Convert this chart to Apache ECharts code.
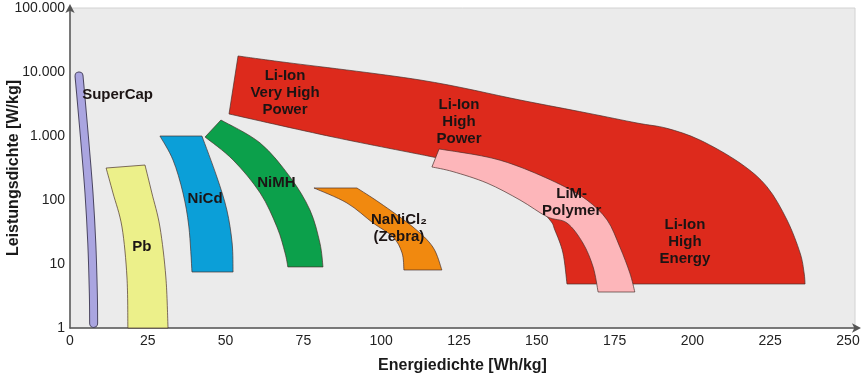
<!DOCTYPE html>
<html>
<head>
<meta charset="utf-8">
<script src="https://cdn.jsdelivr.net/npm/echarts@6/dist/echarts.min.js"></script>
<style>
html, body { margin: 0; padding: 0; background: #fff; }
#ragone { width: 865px; height: 376px; }
</style>
</head>
<body>
<div id="ragone"></div>
<script>
// Ragone-Diagramm: Energiedichte [Wh/kg] gegen Leistungsdichte [W/kg] (log)
var superCap = [[2.9, 8660], [3.4, 4700], [4.8, 780], [6.1, 129], [7.0, 21.3], [7.5, 3.5], [7.6, 1.18]];
var pb = [[11.6, 316], [24.1, 352], [26.3, 129], [28.9, 37.9], [30.8, 6.26], [31.5, 1],
          [18.6, 1], [18.3, 6.26], [16.7, 37.9], [13.8, 129]];
var niCd = [[28.9, 1000], [42.4, 1000], [47.2, 229], [50.4, 69.8], [52.1, 21.3], [52.4, 7.5],
            [39.2, 7.5], [38.2, 37.9], [36.3, 129], [33.1, 422]];
var niMH = [[48.5, 1778], [61.1, 777], [70.7, 229], [77.1, 69.8], [80.3, 21.3], [81.3, 9],
            [70.0, 9], [69.1, 14.9], [66.5, 37.9], [61.1, 129], [52.4, 422], [43.4, 964]];
var naNiCl = [[78.4, 154], [92.2, 154], [99.6, 89.8], [110.2, 37.9], [116.6, 18.4], [119.5, 8.06],
              [107.3, 8.06], [106.7, 14.9], [103.8, 26.5], [97.4, 43.7], [89.0, 89.8]];
var liIon = [[54.0, 17800], [67.5, 14500], [112.5, 7500], [144.6, 3650], [166.1, 2290], [182.2, 1596],
             [191.8, 1318], [202.4, 866], [215.3, 378], [224.0, 160], [230.4, 48.7], [234.6, 14.9],
             [235.9, 7.23], [236.2, 4.87], [159.7, 4.87], [158.4, 14.9], [155.8, 34], [154.2, 48.7],
             [147.8, 100], [135.0, 218], [120.5, 422], [116.6, 470], [84.5, 964], [51.1, 2210]];
var liPolymer = [[118.6, 627], [134.0, 470], [144.6, 328], [157.5, 175], [166.1, 100], [172.6, 48.7],
                 [176.7, 18.4], [179.9, 7.23], [181.5, 3.65], [169.7, 3.65], [168.1, 8.98], [164.8, 21.3],
                 [159.7, 43.7], [153.3, 54.8], [144.6, 100], [134.0, 184], [123.1, 277], [116.3, 328]];

// indices of the sharp corners of each outline (edges in between are curved)
var pbCorners = [0, 1, 5, 6];
var niCdCorners = [0, 1, 5, 6];
var niMHCorners = [0, 5, 6, 11];
var naNiClCorners = [0, 1, 5, 6];
var liIonCorners = [0, 13, 14, 23];
var liPolymerCorners = [0, 8, 9, 17];

var labels = [
    ['SuperCap', 15.3, 4365],
    ['Pb', 23.1, 18.6],
    ['NiCd', 43.4, 104],
    ['NiMH', 66.3, 182],
    ['NaNiCl\u2082\n(Zebra)', 105.7, 36.5],
    ['Li-Ion\nVery High\nPower', 69.1, 4785],
    ['Li-Ion\nHigh\nPower', 125.0, 1672],
    ['LiM-\nPolymer', 161.2, 93],
    ['Li-Ion\nHigh\nEnergy', 197.6, 22.1]
];

var edgeColor = 'rgba(70,45,40,0.85)';

// Catmull-Rom through a run of pixel points -> svg path commands
function runPath(run) {
    var s = '';
    if (run.length === 2) return ' L' + run[1][0] + ',' + run[1][1];
    for (var k = 0; k < run.length - 1; k++) {
        var p0 = run[k - 1] || run[k], p1 = run[k], p2 = run[k + 1], p3 = run[k + 2] || run[k + 1];
        var c1x = p1[0] + (p2[0] - p0[0]) / 6, c1y = p1[1] + (p2[1] - p0[1]) / 6;
        var c2x = p2[0] - (p3[0] - p1[0]) / 6, c2y = p2[1] - (p3[1] - p1[1]) / 6;
        s += ' C' + c1x + ',' + c1y + ' ' + c2x + ',' + c2y + ' ' + p2[0] + ',' + p2[1];
    }
    return s;
}

function outlinePath(p, corners) {
    var d = 'M' + p[corners[0]][0] + ',' + p[corners[0]][1];
    for (var i = 0; i < corners.length; i++) {
        var a = corners[i], b = corners[(i + 1) % corners.length];
        var run = [];
        var j = a;
        run.push(p[j]);
        while (j !== b) {
            j = (j + 1) % p.length;
            run.push(p[j]);
        }
        d += runPath(run);
    }
    return d + ' Z';
}

function shapeSeries(name, pts, corners, fill) {
    return {
        name: name,
        type: 'custom',
        silent: true,
        data: pts,
        encode: { x: 0, y: 1 },
        renderItem: function (params, api) {
            if (params.dataIndex !== 0) return null;
            var p = pts.map(function (d) { return api.coord(d); });
            return {
                type: 'path',
                shape: { pathData: outlinePath(p, corners) },
                style: { fill: fill, stroke: edgeColor, lineWidth: 0.8 }
            };
        }
    };
}

var myChart = echarts.init(document.getElementById('ragone'));

var option = {
    animation: false,
    grid: {
        left: 70,
        right: 10,
        top: 8,
        bottom: 48,
        outerBoundsMode: 'none',
        containLabel: false,
        show: true,
        backgroundColor: '#ebebeb',
        borderColor: '#d2d2d2',
        borderWidth: 1
    },
    xAxis: {
        type: 'value',
        min: 0,
        max: 252.25,
        interval: 25,
        name: 'Energiedichte [Wh/kg]',
        nameLocation: 'middle',
        nameGap: 30,
        nameMoveOverlap: false,
        nameTextStyle: { color: '#1a1a1a', fontSize: 16, fontWeight: 'bold', fontFamily: 'Liberation Sans' },
        axisLine: {
            show: true,
            symbol: ['none', 'arrow'],
            symbolSize: [7, 9],
            symbolOffset: [0, 6],
            lineStyle: { color: '#555', width: 1.5 }
        },
        axisTick: { show: false },
        splitLine: { show: false },
        axisLabel: {
            showMaxLabel: false,
            color: '#222',
            fontSize: 14,
            margin: 6,
            fontFamily: 'Liberation Sans'
        }
    },
    yAxis: {
        type: 'log',
        logBase: 10,
        min: 1,
        max: 100000,
        name: 'Leistungsdichte [W/kg]',
        nameLocation: 'middle',
        nameGap: 48,
        nameMoveOverlap: false,
        nameTextStyle: { color: '#1a1a1a', fontSize: 16, fontWeight: 'bold', fontFamily: 'Liberation Sans' },
        axisLine: {
            show: true,
            symbol: ['none', 'arrow'],
            symbolSize: [7, 9],
            symbolOffset: [0, 4],
            lineStyle: { color: '#555', width: 1.5 }
        },
        axisTick: { show: false },
        splitLine: { show: false },
        axisLabel: {
            color: '#222',
            fontSize: 14,
            margin: 5,
            fontFamily: 'Liberation Sans',
            formatter: function (v) {
                return String(Math.round(v)).replace(/\B(?=(\d{3})+(?!\d))/g, '.');
            }
        }
    },
    series: [
        {
            name: 'SuperCap',
            type: 'custom',
            silent: true,
            data: superCap,
            encode: { x: 0, y: 1 },
            renderItem: function (params, api) {
                if (params.dataIndex !== 0) return null;
                var p = superCap.map(function (d) { return api.coord(d); });
                var d = 'M' + p[0][0] + ',' + p[0][1] + runPath(p);
                return {
                    type: 'group',
                    children: [
                        { type: 'path', shape: { pathData: d }, style: { stroke: '#4a4560', lineWidth: 9, lineCap: 'round', lineJoin: 'round', fill: null } },
                        { type: 'path', shape: { pathData: d }, style: { stroke: '#aaa5e0', lineWidth: 7, lineCap: 'round', lineJoin: 'round', fill: null } }
                    ]
                };
            }
        },
        shapeSeries('Pb', pb, pbCorners, '#ecf08a'),
        shapeSeries('NiCd', niCd, niCdCorners, '#0b9fd8'),
        shapeSeries('NiMH', niMH, niMHCorners, '#0ca04b'),
        shapeSeries('NaNiCl2', naNiCl, naNiClCorners, '#f1890f'),
        shapeSeries('Li-Ion', liIon, liIonCorners, '#dd2a1c'),
        shapeSeries('LiM-Polymer', liPolymer, liPolymerCorners, '#fdb6ba'),
        {
            name: 'labels',
            type: 'custom',
            silent: true,
            data: labels.map(function (l) { return [l[1], l[2]]; }),
            encode: { x: 0, y: 1 },
            renderItem: function (params, api) {
                var c = api.coord([api.value(0), api.value(1)]);
                return {
                    type: 'text',
                    x: c[0],
                    y: c[1],
                    style: {
                        text: labels[params.dataIndex][0],
                        fill: '#1c1414',
                        font: 'bold 15px "Liberation Sans", Arial, sans-serif',
                        align: 'center',
                        verticalAlign: 'middle',
                        textAlign: 'center',
                        textVerticalAlign: 'middle',
                        lineHeight: 17
                    }
                };
            }
        }
    ]
};

myChart.setOption(option);

window.addEventListener('resize', function () {
    myChart.resize();
});
</script>
</body>
</html>
